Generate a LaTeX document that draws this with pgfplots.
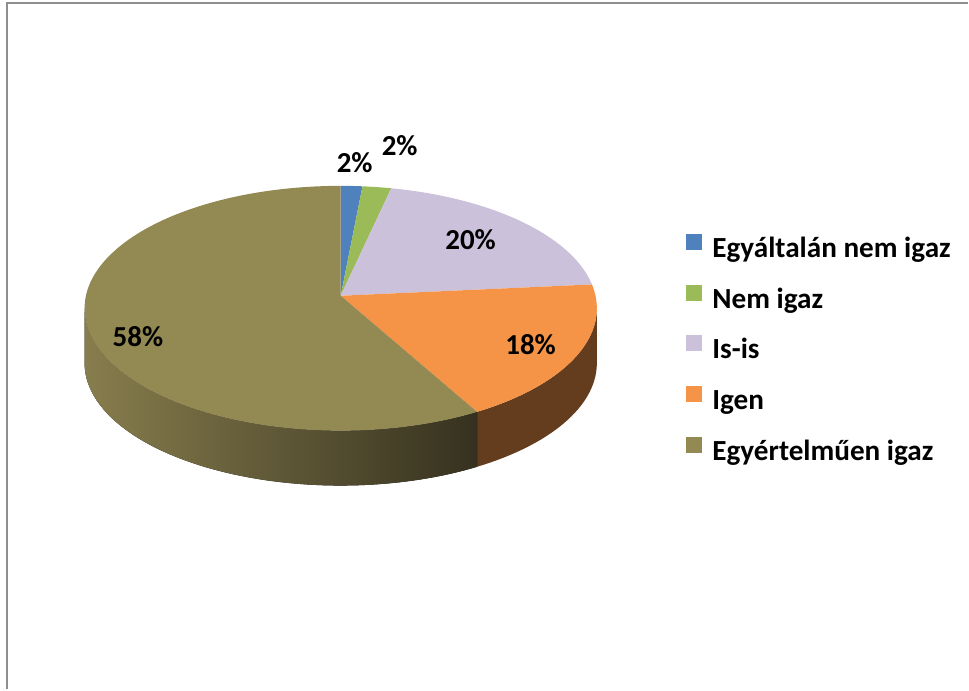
\documentclass[border=0pt]{standalone}
\usepackage{fontspec}
\setmainfont{Carlito}
\usepackage{pgfplots}
\pgfplotsset{compat=1.18}
\usepackage{pgfplotstable}
\usepgfplotslibrary{fillbetween}

\definecolor{cA}{HTML}{4F81BD}
\definecolor{cB}{HTML}{9BBB59}
\definecolor{cC}{HTML}{CCC1DA}
\definecolor{cD}{HTML}{F59446}
\definecolor{cE}{HTML}{938953}
\definecolor{sideD}{HTML}{643C1E}
\definecolor{sideEl}{HTML}{877D4D}
\definecolor{sideEr}{HTML}{36311F}
\definecolor{frame}{HTML}{8E8E8E}

\pgfplotstableread{
idx value
0 1.5
1 2.0
2 20.0
3 18.4
4 58.1
}\piedata

\begin{document}
\begin{tikzpicture}
\pgfplotstablegetelem{0}{value}\of\piedata \let\vA\pgfplotsretval
\pgfplotstablegetelem{1}{value}\of\piedata \let\vB\pgfplotsretval
\pgfplotstablegetelem{2}{value}\of\piedata \let\vC\pgfplotsretval
\pgfplotstablegetelem{3}{value}\of\piedata \let\vD\pgfplotsretval
\pgfplotstablegetelem{4}{value}\of\piedata \let\vE\pgfplotsretval
\pgfmathsetmacro\tA{0}
\pgfmathsetmacro\tB{\tA+3.6*\vA}
\pgfmathsetmacro\tC{\tB+3.6*\vB}
\pgfmathsetmacro\tD{\tC+3.6*\vC}
\pgfmathsetmacro\tE{\tD+3.6*\vD}
\pgfmathsetmacro\tF{\tE+3.6*\vE}
\pgfmathsetmacro\sR{95.9}
\pgfmathsetmacro\sL{264.1}
\begin{axis}[
  width=969pt, height=690pt, scale only axis,
  xmin=0, xmax=969, ymin=0, ymax=690,
  hide axis, clip=false,
  declare function={px(\t)=341+255*sin(\t)/(1+0.102*cos(\t));
                    py(\t)=394+121.2*cos(\t)/(1+0.102*cos(\t));},
  legend image code/.code={\fill[#1] (0pt,1pt) rectangle (16pt,17pt); \path (26pt,0pt);},
  legend cell align=left,
  legend style={draw=none, fill=none, inner sep=0pt, outer sep=0pt,
    at={(axis cs:687,456)}, anchor=north west, row sep=20.3pt,
    nodes={inner sep=0pt, text height=20pt, text depth=7pt},
    font=\bfseries\fontsize{29.2}{34}\selectfont},
]
\path (axis cs:0,0) rectangle (axis cs:969,690);
\draw[frame, line width=1.6pt] (axis cs:7,0) -- (axis cs:7,687) -- (axis cs:969,687);

% side walls
\addplot[name path=oT, draw=none, domain=\sR:\tE, samples=60, forget plot] ({px(x)},{py(x)});
\addplot[name path=oB, draw=none, domain=\sR:\tE, samples=60, forget plot] ({px(x)},{py(x)-55});
\addplot[fill=sideD, draw=none, forget plot] fill between[of=oT and oB];
\addplot[name path=eT, draw=none, domain=\tE:\sL, samples=80, forget plot] ({px(x)},{py(x)});
\addplot[name path=eB, draw=none, domain=\tE:\sL, samples=80, forget plot] ({px(x)},{py(x)-55});
\addplot[left color=sideEl, right color=sideEr, draw=none, forget plot] fill between[of=eT and eB];

% top slices
\addplot[fill=cA, draw=none, domain=\tA:\tB, samples=10] ({px(x)},{py(x)}) -- (axis cs:341,394) -- cycle;
\addlegendentry{Egyáltalán nem igaz}
\addplot[fill=cB, draw=none, domain=\tB:\tC, samples=10] ({px(x)},{py(x)}) -- (axis cs:341,394) -- cycle;
\addlegendentry{Nem igaz}
\addplot[fill=cC, draw=none, domain=\tC:\tD, samples=60] ({px(x)},{py(x)}) -- (axis cs:341,394) -- cycle;
\addlegendentry{Is-is}
\addplot[fill=cD, draw=none, domain=\tD:\tE, samples=60] ({px(x)},{py(x)}) -- (axis cs:341,394) -- cycle;
\addlegendentry{Igen}
\addplot[fill=cE, draw=none, domain=\tE:\tF, samples=150] ({px(x)},{py(x)}) -- (axis cs:341,394) -- cycle;
\addlegendentry{Egyértelműen igaz}

\begin{scope}[every node/.style={font=\bfseries\fontsize{29}{34}\selectfont, inner sep=0pt}]
\node at (axis cs:355,527) {2\%};
\node at (axis cs:400,544) {2\%};
\node at (axis cs:471,450) {20\%};
\node at (axis cs:531,345) {18\%};
\node at (axis cs:138,353) {58\%};
\end{scope}
\end{axis}
\end{tikzpicture}
\end{document}
